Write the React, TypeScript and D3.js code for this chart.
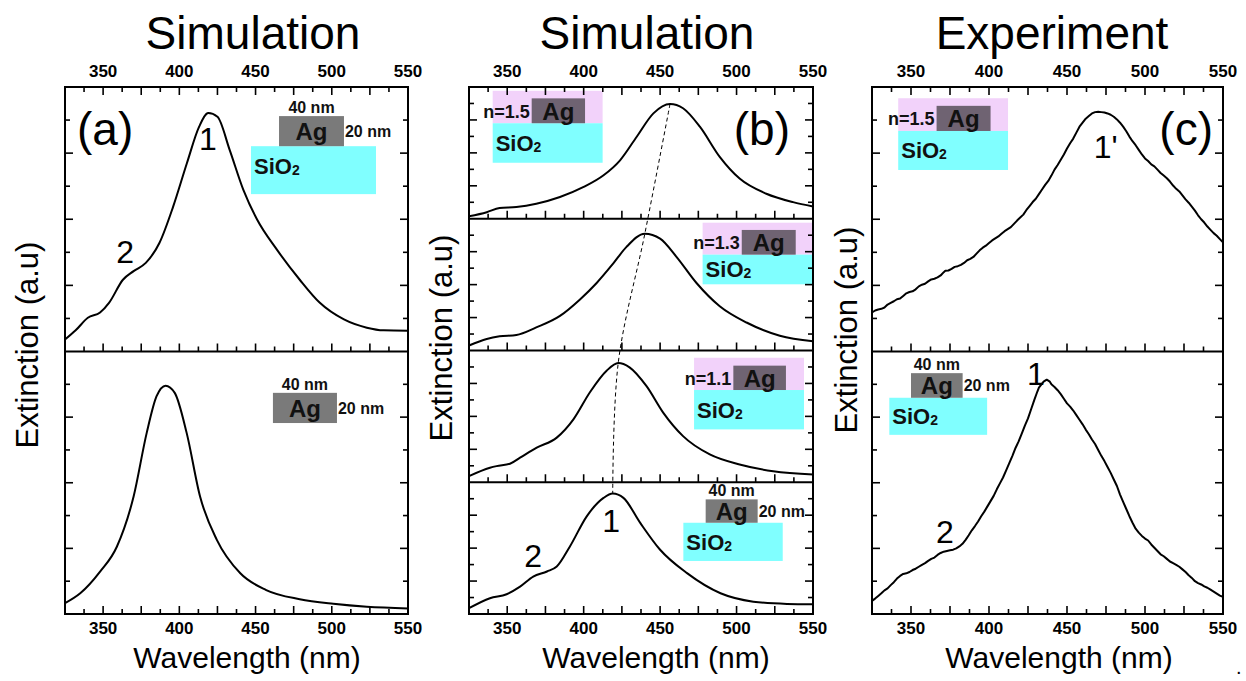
import React from "react";
import * as d3 from "d3";

const FONT = "'Liberation Sans', Arial, Helvetica, sans-serif";

// wavelength (nm) / extinction (a.u.)
const simSiO2 = [[325,0.36],[332,0.64],[340,1.02],[348,1.18],[354,1.48],[363,2.17],[370,2.43],[378,2.68],[387,3.29],[396,4.39],[405,5.7],[413,6.8],[419,7.21],[425,7.1],[433,6.1],[442,4.89],[451,3.99],[464,3.08],[479,2.17],[492,1.48],[508,0.97],[523,0.72],[534,0.64],[550,0.63]];
const simFree = [[325,0.33],[335,0.63],[348,1.29],[359,2.05],[370,3.58],[378.6,5.52],[385,6.63],[391,6.96],[397,6.74],[404.8,5.52],[413.6,3.58],[424.6,2.26],[440,1.24],[457,0.73],[479,0.45],[501,0.31],[523,0.22],[550,0.17]];
const simN15 = [[325,0.15],[336.6,0.4],[345,0.65],[356,0.71],[369,0.91],[384.5,1.32],[400,1.93],[413,2.64],[423.8,3.55],[434.7,4.98],[445.6,6.4],[456.5,6.97],[465,6.71],[476,5.59],[489,3.76],[502,2.44],[519.5,1.52],[537,1.01],[550,0.75]];
const simN13 = [[325,0.3],[336.6,0.7],[345,0.86],[356,0.94],[369,1.4],[384.5,2.1],[397.6,3.1],[408.5,4.1],[419.4,5.29],[428,6.29],[440,7.09],[450,6.79],[460.7,5.69],[473.8,4.1],[489,2.69],[506.5,1.7],[528.3,0.9],[550,0.56]];
const simN11 = [[325,0.37],[338.7,0.88],[343,0.98],[351.8,1.12],[358.4,1.49],[369.3,2.1],[382.4,2.71],[393.3,3.82],[404,5.45],[415,6.77],[422.6,7.24],[430,6.98],[441,5.85],[452,4.23],[465,2.8],[482.5,1.69],[502,1.08],[524,0.67],[550,0.47]];
const simBare = [[325,0.35],[338.7,0.96],[349.6,1.2],[358.4,1.66],[367,2.27],[376,2.58],[382.4,2.88],[391,4.1],[402,5.93],[413,7.05],[419,7.31],[426,7.05],[437,5.53],[450,3.9],[467.6,2.48],[489.5,1.26],[511,0.75],[533,0.61],[550,0.59]];
const expN15 = [[325,1.18],[327,1.24],[329,1.27],[331,1.29],[333,1.33],[335,1.42],[337,1.47],[339,1.52],[341,1.58],[343,1.6],[345,1.68],[347,1.76],[349,1.8],[351,1.82],[353,1.88],[355,1.97],[357,2.02],[359,2.05],[361,2.12],[363,2.18],[365,2.2],[367,2.24],[369,2.3],[371,2.4],[372,2.44],[374,2.45],[376,2.5],[378,2.56],[380,2.58],[382,2.62],[384,2.68],[386,2.76],[388,2.8],[390,2.86],[392,2.96],[394,3.06],[396,3.14],[398,3.2],[400,3.28],[402,3.36],[404,3.42],[406,3.48],[408,3.56],[410,3.64],[412,3.7],[414,3.76],[416,3.86],[418,3.96],[420,4.05],[422,4.14],[424,4.28],[426,4.4],[428,4.52],[430,4.62],[432,4.76],[434,4.9],[436,5.04],[438,5.16],[440,5.32],[442,5.5],[444,5.64],[446,5.8],[448,5.96],[450,6.14],[452,6.3],[454,6.44],[456,6.62],[458,6.8],[460,6.92],[462,7.04],[464,7.12],[466,7.2],[468,7.24],[470,7.25],[472,7.24],[474,7.23],[476,7.2],[478,7.16],[480,7.1],[482,7.02],[484,6.92],[486,6.8],[488,6.66],[490,6.5],[492,6.36],[494,6.24],[496,6.1],[498,5.96],[500,5.84],[502,5.76],[504,5.66],[506,5.6],[508,5.5],[510,5.4],[512,5.32],[514,5.24],[516,5.14],[518,5.02],[520,4.92],[522,4.84],[524,4.72],[526,4.6],[528,4.5],[530,4.38],[532,4.26],[534,4.12],[536,4.0],[538,3.9],[540,3.78],[542,3.68],[544,3.58],[546,3.5],[548,3.4],[550,3.3]];
const expBare = [[325,0.4],[327,0.47],[329,0.55],[331,0.63],[333,0.72],[335,0.78],[337,0.88],[339,0.97],[341,1.08],[343,1.16],[345,1.22],[347,1.24],[349,1.28],[351,1.34],[353,1.38],[355,1.44],[357,1.5],[359,1.55],[361,1.62],[363,1.68],[365,1.72],[367,1.8],[369,1.86],[371,1.9],[373,1.92],[375,1.94],[377,1.96],[379,2.0],[381,2.06],[383,2.14],[385,2.26],[387,2.4],[389,2.55],[391,2.68],[393,2.82],[395,2.98],[397,3.12],[399,3.28],[401,3.44],[403,3.6],[405,3.8],[407,3.98],[409,4.16],[411,4.38],[413,4.6],[415,4.82],[417,5.06],[419,5.26],[421,5.5],[423,5.74],[425,5.96],[427,6.24],[429,6.52],[431,6.78],[432,6.9],[434,7.02],[435,7.08],[437,7.14],[439,7.08],[440,7.0],[442,6.92],[444,6.82],[446,6.7],[448,6.56],[450,6.42],[452,6.32],[454,6.2],[456,6.06],[458,5.92],[460,5.78],[462,5.62],[464,5.48],[466,5.32],[468,5.18],[470,5.0],[472,4.82],[474,4.66],[476,4.48],[478,4.3],[480,4.1],[482,3.9],[484,3.64],[486,3.42],[488,3.2],[490,2.98],[492,2.78],[494,2.6],[496,2.48],[498,2.38],[500,2.3],[502,2.24],[504,2.12],[506,2.02],[508,1.92],[510,1.82],[512,1.76],[514,1.68],[516,1.6],[518,1.55],[520,1.5],[522,1.44],[524,1.36],[526,1.28],[528,1.18],[530,1.1],[532,1.0],[534,0.94],[536,0.9],[538,0.84],[540,0.8],[542,0.74],[544,0.68],[546,0.62],[548,0.56],[550,0.52]];

const xDomain = [325, 550];
const xLabels = [350, 400, 450, 500, 550];
const yDomain = [0, 8];

// insets in data units: [nm0, nm1, vTop, vBottom]
const insetA1 = { sub: [447, 529, 6.21, 4.76], ag: [465.4, 508, 7.12, 6.21], dims: true };
const insetA2 = { ag: [461.4, 503.4, 6.74, 5.82], dims: true };
const insetB1 = { cover: [340.5, 412.4, 7.77, 5.8], sub: [340.5, 412.4, 5.8, 3.4], ag: [366, 400.9, 7.31, 5.8], n: "n=1.5" };
const insetB2 = { cover: [477.8, 550, 7.76, 5.82], sub: [477.8, 550, 5.82, 4.02], ag: [503.4, 538.7, 7.32, 5.82], n: "n=1.3" };
const insetB3 = { cover: [472.2, 544.1, 7.56, 5.6], sub: [472.2, 544.1, 5.6, 3.21], ag: [497.9, 532.3, 7.08, 5.6], n: "n=1.1" };
const insetB4 = { sub: [465.2, 530.2, 5.54, 3.22], ag: [479.8, 513.8, 6.96, 5.54], dims: true };
const insetC1 = { cover: [341.8, 412.2, 7.66, 6.67], sub: [341.8, 412.2, 6.67, 5.49], ag: [366.4, 401, 7.43, 6.67], n: "n=1.5" };
const insetC2 = { sub: [336.1, 398.8, 6.59, 5.46], ag: [350, 383.1, 7.34, 6.59], dims: true };

const panels = [
  { x0: 65, x1: 408, title: "Simulation", titleX: 253, ylabX: 38, ylabY: 345, wlX: 247, tag: "(a)", tagX: 77, tagAnchor: "start", curve: d3.curveMonotoneX, dashed: false,
    subs: [
      { y0: 87, y1: 351.5, data: simSiO2, inset: insetA1, nums: [["1", 418.8, 6.09], ["2", 364.4, 2.68]] },
      { y0: 351.5, y1: 614, data: simFree, inset: insetA2, nums: [] },
    ] },
  { x0: 469, x1: 813, title: "Simulation", titleX: 647, ylabX: 452, ylabY: 338, wlX: 656, tag: "(b)", tagX: 790, tagAnchor: "end", curve: d3.curveMonotoneX, dashed: true,
    subs: [
      { y0: 87, y1: 218.75, data: simN15, inset: insetB1, nums: [] },
      { y0: 218.75, y1: 350.5, data: simN13, inset: insetB2, nums: [] },
      { y0: 350.5, y1: 482.25, data: simN11, inset: insetB3, nums: [] },
      { y0: 482.25, y1: 614, data: simBare, inset: insetB4, nums: [["1", 417.9, 4.98], ["2", 366.9, 2.85]] },
    ] },
  { x0: 872, x1: 1223, title: "Experiment", titleX: 1052, ylabX: 857, ylabY: 330, wlX: 1059, tag: "(c)", tagX: 1213, tagAnchor: "end", curve: d3.curveLinear, dashed: false,
    subs: [
      { y0: 87, y1: 351.5, data: expN15, inset: insetC1, nums: [["1'", 474.8, 5.85]] },
      { y0: 351.5, y1: 614, data: expBare, inset: insetC2, nums: [["1", 430, 6.98], ["2", 371.7, 2.16]] },
    ] },
];

const xTicks = d3.range(337.5, 550, 12.5);
const yTicks = d3.range(1, 8, 1);

const rectOf = (b, xs, ys) => ({ x: xs(b[0]), y: ys(b[2]), width: xs(b[1]) - xs(b[0]), height: ys(b[3]) - ys(b[2]) });

const Inset = ({ inset, xs, ys }) => {
  const ag = rectOf(inset.ag, xs, ys);
  const sub = inset.sub ? rectOf(inset.sub, xs, ys) : null;
  const cover = inset.cover ? rectOf(inset.cover, xs, ys) : null;
  const agFill = cover ? "#6f6372" : "#7a7a7a";
  return (
    <g fontFamily={FONT} fontWeight="bold" fill="#111">
      {cover && <rect {...cover} fill="#f2d2fa" />}
      {sub && <rect {...sub} fill="#80ffff" />}
      <rect {...ag} fill={agFill} />
      <text x={ag.x + ag.width / 2} y={ag.y + ag.height / 2 + 9} fontSize={24} textAnchor="middle">Ag</text>
      {sub && (
        <text x={sub.x + 3} y={sub.y + Math.min(sub.height / 2, 20) + 8} fontSize={22}>
          SiO<tspan fontSize={14} dy={1}>2</tspan>
        </text>
      )}
      {inset.n && <text x={ag.x - 2} y={ag.y + ag.height / 2 + 7} fontSize={18} textAnchor="end">{inset.n}</text>}
      {inset.dims && (
        <>
          <text x={ag.x + ag.width / 2} y={ag.y - 3} fontSize={16} textAnchor="middle">40 nm</text>
          <text x={ag.x + ag.width + 1} y={ag.y + ag.height / 2 + 6} fontSize={16}>20 nm</text>
        </>
      )}
    </g>
  );
};

const Panel = ({ p }) => {
  const xs = d3.scaleLinear().domain(xDomain).range([p.x0, p.x1]);
  const peaks = [];
  const last = p.subs.length - 1;
  const body = p.subs.map((s, i) => {
    const ys = d3.scaleLinear().domain(yDomain).range([s.y1, s.y0]);
    const line = d3.line().x((d) => xs(d[0])).y((d) => ys(d[1])).curve(p.curve);
    const pk = s.data[d3.maxIndex(s.data, (d) => d[1])];
    peaks.push([xs(pk[0]), ys(pk[1])]);
    return (
      <g key={i}>
        <Inset inset={s.inset} xs={xs} ys={ys} />
        <path d={line(s.data)} fill="none" stroke="#000" strokeWidth={2} strokeLinejoin="round" />
        {s.nums.map(([t, l, v], j) => (
          <text key={j} x={xs(l)} y={ys(v)} fontSize={32} textAnchor="middle" fontFamily={FONT}>{t}</text>
        ))}
        {/* y ticks, both sides */}
        {yTicks.map((t) => {
          const len = t % 2 === 0 ? 8 : 5;
          return (
            <g key={t} stroke="#000" strokeWidth={1.6}>
              <line x1={p.x0} x2={p.x0 + len} y1={ys(t)} y2={ys(t)} />
              <line x1={p.x1} x2={p.x1 - len} y1={ys(t)} y2={ys(t)} />
            </g>
          );
        })}
        {/* x ticks on the lower edge of each sub panel */}
        {xTicks.map((t) => {
          const len = t % 25 === 0 ? 8 : 5;
          return <line key={t} x1={xs(t)} x2={xs(t)} y1={s.y1} y2={s.y1 - len} stroke="#000" strokeWidth={1.6} />;
        })}
        {i === 0 &&
          xTicks.map((t) => {
            const len = t % 25 === 0 ? 8 : 5;
            return <line key={"t" + t} x1={xs(t)} x2={xs(t)} y1={s.y0} y2={s.y0 + len} stroke="#000" strokeWidth={1.6} />;
          })}
        {i < last && <line x1={p.x0} x2={p.x1} y1={s.y1} y2={s.y1} stroke="#000" strokeWidth={2} />}
      </g>
    );
  });
  const top = p.subs[0].y0;
  const bottom = p.subs[last].y1;
  const dash = d3.line().curve(d3.curveCatmullRom);
  return (
    <g>
      {body}
      {p.dashed && <path d={dash(peaks)} fill="none" stroke="#000" strokeWidth={1} strokeDasharray="4,3" />}
      <rect x={p.x0} y={top} width={p.x1 - p.x0} height={bottom - top} fill="none" stroke="#000" strokeWidth={2} />
      <g fontFamily={FONT} fontWeight="bold" fontSize={17} textAnchor="middle">
        {xLabels.map((t) => (
          <g key={t}>
            <text x={xs(t)} y={77}>{t}</text>
            <text x={xs(t)} y={634}>{t}</text>
          </g>
        ))}
      </g>
      <text x={p.titleX} y={49} fontSize={46} textAnchor="middle" fontFamily={FONT}>{p.title}</text>
      <text x={p.wlX} y={668} fontSize={30} textAnchor="middle" fontFamily={FONT}>Wavelength (nm)</text>
      <text transform={`translate(${p.ylabX},${p.ylabY}) rotate(-90)`} fontSize={31} textAnchor="middle" fontFamily={FONT}>Extinction (a.u)</text>
      <text x={p.tagX} y={145} fontSize={46} textAnchor={p.tagAnchor} fontFamily={FONT}>{p.tag}</text>
    </g>
  );
};

export default function App() {
  return (
    <svg width={1246} height={681} style={{ position: "absolute", left: 0, top: 0, background: "#fff" }}>
      <rect width={1246} height={681} fill="#fff" />
      {panels.map((p, i) => (
        <Panel key={i} p={p} />
      ))}
      <text x={1236} y={674} fontSize={20} fontFamily={FONT}>.</text>
    </svg>
  );
}
